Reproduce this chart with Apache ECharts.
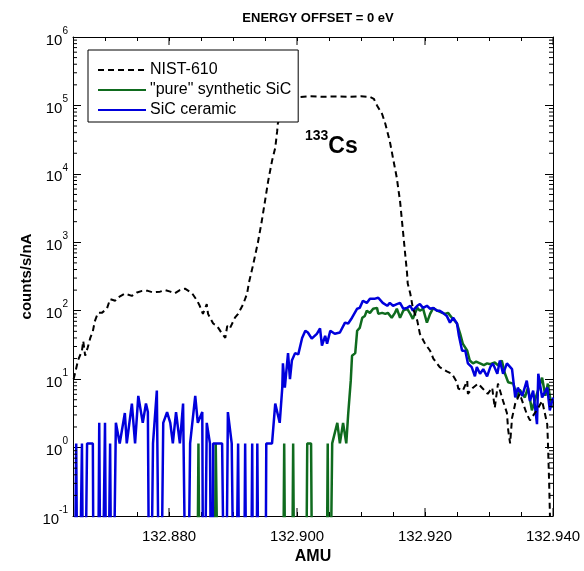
<!DOCTYPE html>
<html>
<head>
<meta charset="utf-8">
<script src="https://cdn.jsdelivr.net/npm/echarts@6/dist/echarts.min.js"></script>
<style>
  html, body { margin: 0; padding: 0; background: #fff; }
  #chart { width: 584px; height: 571px; }
</style>
</head>
<body>
<div id="chart"></div>
<script>
// zero counts: plotted far below the 0.1 floor so the trace drops off the axis
const Z = 0.0001;

const amuMin = 132.865;
const amuMax = 132.940;
const amuLabels = [132.880, 132.900, 132.920, 132.940];

// NIST-610 glass, dashed black
const nistPoints = [
  [132.8651, 10], [132.8653, 12], [132.8658, 19], [132.8664, 26], [132.8666, 36],
  [132.8669, 22], [132.8673, 29], [132.8677, 40], [132.8681, 50], [132.8684, 70],
  [132.8689, 93], [132.8695, 93], [132.8703, 107], [132.8708, 148], [132.8716, 140],
  [132.8720, 155], [132.8731, 178], [132.8742, 165], [132.8750, 185], [132.8758, 195],
  [132.8767, 195], [132.8775, 185], [132.8786, 190], [132.8794, 200], [132.8802, 190],
  [132.8809, 180], [132.8817, 200], [132.8825, 210], [132.8836, 180], [132.8844, 140],
  [132.8848, 118], [132.8853, 90], [132.8859, 125], [132.8861, 90], [132.8869, 65],
  [132.8875, 60], [132.8883, 46], [132.8888, 40], [132.8891, 60], [132.8895, 55],
  [132.8903, 79], [132.8908, 90], [132.8916, 125], [132.8922, 178], [132.8925, 260],
  [132.8931, 450], [132.8939, 1000], [132.8945, 2050], [132.8950, 4000], [132.8955, 7900],
  [132.8961, 15500], [132.8966, 24000], [132.8969, 42000], [132.8970, 54000], [132.8977, 90000],
  [132.8986, 120000], [132.9002, 132000], [132.9020, 136000], [132.9040, 134000], [132.9060, 135000],
  [132.9080, 134000], [132.9100, 136000], [132.9114, 133000], [132.9120, 125000], [132.9125, 100000],
  [132.9133, 75000], [132.9138, 54000], [132.9145, 30000], [132.9150, 17000], [132.9156, 8700],
  [132.9158, 6300], [132.9161, 4000], [132.9164, 2050], [132.9166, 1330], [132.9169, 680],
  [132.9172, 350], [132.9173, 250], [132.9177, 178], [132.9181, 110], [132.9188, 71],
  [132.9192, 46], [132.9200, 33], [132.9208, 26], [132.9213, 20], [132.9223, 15],
  [132.9234, 13], [132.9242, 12], [132.9250, 9], [132.9252, 7.3], [132.9259, 6.8],
  [132.9266, 9.5], [132.9267, 6.1], [132.9275, 7.5], [132.9283, 8.6], [132.9289, 7.5],
  [132.9298, 6.1], [132.9305, 7.5], [132.9309, 3.8], [132.9314, 8.6], [132.9322, 4.8],
  [132.9328, 3.2], [132.9330, 1.8], [132.9333, 1.15], [132.9336, 2.7], [132.9341, 4.4],
  [132.9348, 6.1], [132.9359, 3.1], [132.9364, 2.5], [132.9377, 3.8], [132.9383, 4.8],
  [132.9391, 2.2], [132.9392, 1.25], [132.9394, 0.3], [132.9396, 0.05]
];

// "pure" synthetic SiC, green
const purePoints = [
  [132.8650, Z], [132.8843, Z], [132.8846, 1.15], [132.8849, Z], [132.8870, Z],
  [132.8873, 1.15], [132.8876, 1.15], [132.8879, Z], [132.8977, Z], [132.8980, 1.15],
  [132.8983, Z], [132.8991, Z], [132.8994, 1.15], [132.8997, Z], [132.9013, Z],
  [132.9016, 1.15], [132.9022, 1.15], [132.9025, Z], [132.9045, Z], [132.9048, 1.15],
  [132.9050, Z], [132.9055, 1.15], [132.9063, 2.3], [132.9067, 1.15], [132.9072, 2.3],
  [132.9077, 1.15], [132.9080, 3.1], [132.9084, 9.5], [132.9086, 22], [132.9091, 24],
  [132.9094, 51], [132.9098, 56], [132.9102, 79], [132.9106, 84], [132.9109, 100],
  [132.9114, 93], [132.9119, 107], [132.9125, 110], [132.9127, 90], [132.9133, 93],
  [132.9138, 90], [132.9142, 93], [132.9148, 79], [132.9153, 93], [132.9156, 107],
  [132.9161, 79], [132.9166, 100], [132.9172, 107], [132.9177, 90], [132.9181, 76],
  [132.9188, 110], [132.9192, 100], [132.9197, 107], [132.9203, 67], [132.9208, 90],
  [132.9213, 110], [132.9219, 100], [132.9227, 93], [132.9231, 90], [132.9236, 93],
  [132.9242, 79], [132.9250, 65], [132.9255, 46], [132.9259, 33], [132.9266, 26],
  [132.9270, 18.7], [132.9275, 17], [132.9280, 18], [132.9286, 17], [132.9292, 16],
  [132.9297, 17], [132.9302, 16.5], [132.9309, 17.5], [132.9314, 16], [132.9320, 18.7],
  [132.9325, 12], [132.9330, 9], [132.9338, 8.6], [132.9344, 5.4], [132.9348, 7],
  [132.9356, 5.4], [132.9361, 7.5], [132.9367, 3.5], [132.9372, 5], [132.9377, 7],
  [132.9383, 10.5], [132.9388, 5.7], [132.9392, 8.6], [132.9398, 3.8]
];

// SiC ceramic, blue
const ceramicPoints = [
  [132.8651, Z], [132.8655, 1.15], [132.8658, Z], [132.8664, 1.15], [132.8667, Z],
  [132.8672, 1.15], [132.8681, 1.15], [132.8683, Z], [132.8688, Z], [132.8691, 2.3],
  [132.8694, Z], [132.8697, Z], [132.8700, 2.3], [132.8703, Z], [132.8706, Z],
  [132.8708, 1.15], [132.8711, Z], [132.8714, Z], [132.8717, 2.3], [132.8723, 1.15],
  [132.8731, 3.2], [132.8734, 1.15], [132.8742, 4.4], [132.8747, 1.15], [132.8752, 5.7],
  [132.8759, 2.3], [132.8764, 4.4], [132.8767, 3.3], [132.8770, Z], [132.8775, 1.15],
  [132.8781, 6.8], [132.8786, Z], [132.8791, 2.3], [132.8797, 3.3], [132.8802, 2.3],
  [132.8806, 1.15], [132.8811, 3.3], [132.8817, 1.15], [132.8822, 4.4], [132.8828, Z],
  [132.8833, 1.15], [132.8841, 5.7], [132.8845, 2.3], [132.8852, 3.3], [132.8854, Z],
  [132.8859, 2.3], [132.8864, 1.15], [132.8867, Z], [132.8869, 1.15], [132.8883, 1.15],
  [132.8888, Z], [132.8892, 3.3], [132.8898, 1.15], [132.8900, 1.15], [132.8903, Z],
  [132.8908, 1.15], [132.8911, Z], [132.8916, Z], [132.8919, 1.15], [132.8922, Z],
  [132.8927, Z], [132.8930, 1.15], [132.8932, Z], [132.8936, Z], [132.8938, 1.15],
  [132.8941, Z], [132.8950, Z], [132.8952, 1.15], [132.8961, 1.15], [132.8966, 4.4],
  [132.8973, 2.3], [132.8977, 7.5], [132.8978, 17], [132.8981, 7.5], [132.8986, 24],
  [132.8989, 10], [132.8992, 18.7], [132.8997, 24], [132.9002, 23], [132.9008, 40],
  [132.9013, 51], [132.9017, 48], [132.9023, 39], [132.9031, 46], [132.9036, 55],
  [132.9039, 31], [132.9044, 43], [132.9047, 33], [132.9052, 51], [132.9059, 46],
  [132.9067, 48], [132.9075, 67], [132.9080, 65], [132.9086, 79], [132.9094, 107],
  [132.9098, 110], [132.9103, 140], [132.9109, 130], [132.9114, 150], [132.9122, 150],
  [132.9127, 155], [132.9134, 130], [132.9141, 118], [132.9145, 130], [132.9150, 118],
  [132.9156, 125], [132.9161, 130], [132.9166, 107], [132.9172, 110], [132.9177, 118],
  [132.9181, 100], [132.9188, 118], [132.9192, 125], [132.9197, 110], [132.9203, 118],
  [132.9208, 107], [132.9213, 110], [132.9219, 100], [132.9223, 100], [132.9228, 93],
  [132.9234, 84], [132.9239, 67], [132.9244, 79], [132.9250, 65], [132.9253, 43],
  [132.9258, 26], [132.9263, 26], [132.9267, 17], [132.9273, 15], [132.9278, 11],
  [132.9281, 15], [132.9286, 12], [132.9291, 14], [132.9297, 11], [132.9302, 15],
  [132.9306, 17], [132.9313, 12], [132.9317, 18.7], [132.9322, 12], [132.9328, 17],
  [132.9336, 14], [132.9341, 5.4], [132.9345, 7.5], [132.9352, 5.7], [132.9359, 9.5],
  [132.9364, 4.8], [132.9369, 6.8], [132.9375, 2.2], [132.9377, 12], [132.9383, 5.4],
  [132.9391, 7.5], [132.9395, 3.5], [132.9400, 5.4]
];

const FONT = '"Liberation Sans", Arial, sans-serif';
const GREEN = '#0f6b1e';
const BLUE = '#0000dc';

// tick marks drawn by a custom series: long x ticks at labelled AMU, short log minor ticks on y
const tickData = [];
amuLabels.forEach(a => tickData.push([a, 1, 0]));
for (let e = -1; e < 6; e++) {
  for (let m = 2; m <= 9; m++) tickData.push([132.9, m * Math.pow(10, e), 1]);
}

function renderTick(params, api) {
  const cs = params.coordSys;
  const p = api.coord([api.value(0), api.value(1)]);
  const st = { stroke: '#000', lineWidth: 1 };
  if (api.value(2) === 0) {
    const b = cs.y + cs.height;
    return { type: 'group', children: [
      { type: 'line', shape: { x1: p[0], y1: b, x2: p[0], y2: b - 8 }, style: st },
      { type: 'line', shape: { x1: p[0], y1: cs.y, x2: p[0], y2: cs.y + 8 }, style: st }
    ]};
  }
  const r = cs.x + cs.width;
  return { type: 'group', children: [
    { type: 'line', shape: { x1: cs.x, y1: p[1], x2: cs.x + 4, y2: p[1] }, style: st },
    { type: 'line', shape: { x1: r, y1: p[1], x2: r - 4, y2: p[1] }, style: st }
  ]};
}

const axisLine = { show: true, onZero: false, lineStyle: { color: '#000', width: 1 } };

function xAxisCfg(pos, labels) {
  return {
    type: 'value', position: pos, min: amuMin, max: amuMax, interval: 0.005,
    axisLine: axisLine,
    axisTick: { inside: true, length: 4, lineStyle: { color: '#000' } },
    splitLine: { show: false },
    axisLabel: {
      show: labels, margin: 13, fontSize: 15, color: '#000', fontFamily: FONT,
      formatter: v => amuLabels.some(a => Math.abs(a - v) < 1e-7) ? v.toFixed(3) : ''
    },
    name: labels ? 'AMU' : '', nameLocation: 'middle', nameGap: 33, nameMoveOverlap: false,
    nameTextStyle: { fontSize: 16, fontWeight: 'bold', color: '#000', fontFamily: FONT }
  };
}

function yAxisCfg(pos, labels) {
  return {
    type: 'log', logBase: 10, position: pos, min: 0.1, max: 1e6, splitNumber: 7,
    axisLine: axisLine,
    axisTick: { inside: true, length: 8, lineStyle: { color: '#000' } },
    splitLine: { show: false },
    axisLabel: {
      show: labels, margin: 5, color: '#000',
      formatter: v => '{b|10}{e|' + Math.round(Math.log10(v)) + '}',
      rich: {
        b: { fontSize: 15, fontFamily: FONT, color: '#000', lineHeight: 22, verticalAlign: 'bottom' },
        e: { fontSize: 10, fontFamily: FONT, color: '#000', lineHeight: 10, verticalAlign: 'top' }
      }
    },
    name: labels ? 'counts/s/nA' : '', nameLocation: 'middle', nameGap: 39, nameMoveOverlap: false,
    nameTextStyle: { fontSize: 15, fontWeight: 'bold', color: '#000', fontFamily: FONT }
  };
}

const lineBase = { type: 'line', symbol: 'none', showSymbol: false, clip: true, animation: false };

const chart = echarts.init(document.getElementById('chart'));
chart.setOption({
  animation: false,
  title: {
    text: 'ENERGY OFFSET = 0 eV', left: 313, top: 7, textAlign: 'center',
    textStyle: { fontSize: 13, fontWeight: 'bold', color: '#000', fontFamily: FONT }
  },
  grid: { left: 73, right: 31, top: 37, bottom: 55 },
  legend: {
    data: ['NIST-610', '"pure" synthetic SiC', 'SiC ceramic'],
    orient: 'vertical', left: 88, top: 50, z: 10,
    padding: [12, 7, 4, 9], itemGap: 4, itemWidth: 48, itemHeight: 14,
    backgroundColor: '#fff', borderColor: '#000', borderWidth: 1,
    selectedMode: false,
    itemStyle: { color: 'rgba(0,0,0,0)', borderColor: 'rgba(0,0,0,0)', borderWidth: 0 },
    textStyle: { fontSize: 16, color: '#000', fontFamily: FONT, padding: [0, 0, 0, -1] }
  },
  xAxis: [xAxisCfg('bottom', true), xAxisCfg('top', false)],
  yAxis: [yAxisCfg('left', true), yAxisCfg('right', false)],
  graphic: [{
    type: 'text', left: 305, top: 129, z: 10,
    style: {
      text: '{s|133}{c|Cs}',
      rich: {
        s: { fontSize: 14, fontWeight: 'bold', fontFamily: FONT, fill: '#000', lineHeight: 12, verticalAlign: 'top' },
        c: { fontSize: 23, fontWeight: 'bold', fontFamily: FONT, fill: '#000', lineHeight: 29, verticalAlign: 'bottom' }
      }
    }
  }],
  series: [
    Object.assign({}, lineBase, {
      name: '"pure" synthetic SiC', data: purePoints,
      lineStyle: { color: GREEN, width: 2.5 }, itemStyle: { color: GREEN }
    }),
    Object.assign({}, lineBase, {
      name: 'SiC ceramic', data: ceramicPoints,
      lineStyle: { color: BLUE, width: 2.5 }, itemStyle: { color: BLUE }
    }),
    Object.assign({}, lineBase, {
      name: 'NIST-610', data: nistPoints,
      lineStyle: { color: '#000', width: 2, type: [6, 4] }, itemStyle: { color: '#000' }
    }),
    {
      type: 'custom', name: 'ticks', data: tickData, renderItem: renderTick,
      silent: true, clip: false, z: 5
    }
  ]
});
</script>
</body>
</html>
